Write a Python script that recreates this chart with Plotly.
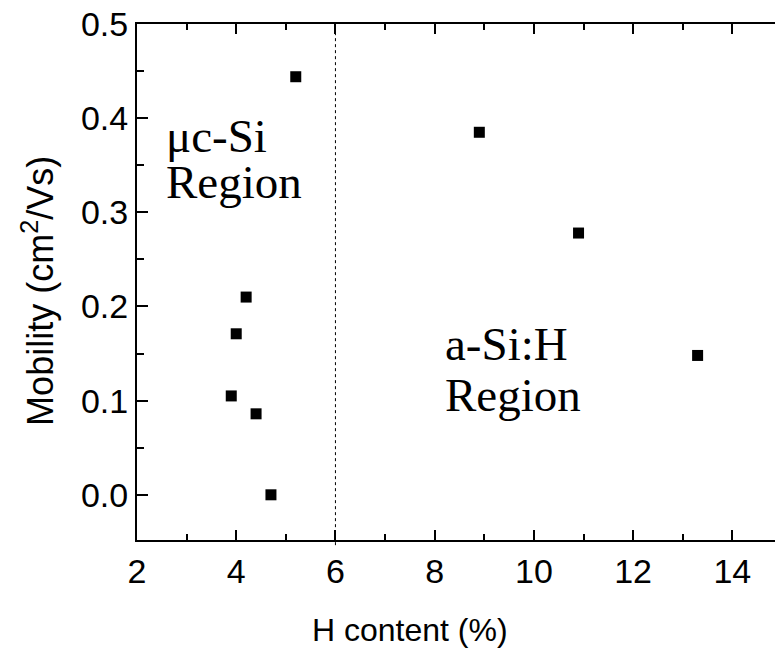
import plotly.graph_objects as go

# Data
h_content = [5.2, 8.9, 10.9, 13.3, 4.2, 4.0, 3.9, 4.4, 4.7]
mobility = [0.444, 0.385, 0.278, 0.148, 0.210, 0.171, 0.105, 0.086, 0.0]

x_tick_start, x_tick_step = 2, 2
y_tick_start, y_tick_step = 0.0, 0.1
boundary_x = 6

SANS = "Liberation Sans, Arial, sans-serif"
SERIF = "Liberation Serif, Times New Roman, serif"

fig = go.Figure()
fig.add_trace(go.Scatter(
    x=h_content, y=mobility, mode="markers",
    marker=dict(symbol="square", size=11, color="black", line=dict(width=0)),
    showlegend=False, cliponaxis=False,
))

fig.add_shape(type="line", xref="x", yref="paper", x0=boundary_x, x1=boundary_x,
              y0=-0.01, y1=1, line=dict(color="black", width=1, dash="dot"))

fig.update_xaxes(
    range=[2, 14.86], tickmode="linear", tick0=x_tick_start, dtick=x_tick_step,
    showline=True, linecolor="black", linewidth=2, mirror="ticks",
    ticks="inside", ticklen=10, tickwidth=2, tickcolor="black",
    minor=dict(ticks="inside", ticklen=6, tickwidth=2, tickcolor="black",
               tickmode="linear", tick0=x_tick_start, dtick=x_tick_step / 2, showgrid=False),
    showgrid=False, zeroline=False,
    tickfont=dict(family=SANS, size=34, color="black"),
)
fig.update_yaxes(
    range=[-0.048, 0.5], tickmode="linear", tick0=y_tick_start, dtick=y_tick_step, tickformat=".1f",
    showline=True, linecolor="black", linewidth=2, mirror=False,
    ticks="inside", ticklen=11, tickwidth=2, tickcolor="black",
    minor=dict(ticks="inside", ticklen=7, tickwidth=2, tickcolor="black",
               tickmode="linear", tick0=y_tick_start, dtick=y_tick_step / 2, showgrid=False),
    showgrid=False, zeroline=False,
    tickfont=dict(family=SANS, size=34, color="black"),
)

annotations = [
    dict(text="H content (%)", xref="paper", yref="paper", x=0.428, y=-0.175,
         xanchor="center", yanchor="middle", showarrow=False,
         font=dict(family=SANS, size=32, color="black")),
    dict(text="Mobility (cm<sup>2</sup>/Vs)", xref="paper", yref="paper", x=-0.155, y=0.483,
         xanchor="center", yanchor="middle", showarrow=False, textangle=-90,
         font=dict(family=SANS, size=36, color="black")),
    dict(text="\u03bcc-Si", xref="x", yref="y", x=2.55, y=0.381, xanchor="left", yanchor="middle",
         showarrow=False, font=dict(family=SERIF, size=47, color="black")),
    dict(text="Region", xref="x", yref="y", x=2.55, y=0.332, xanchor="left", yanchor="middle",
         showarrow=False, font=dict(family=SERIF, size=47, color="black")),
    dict(text="a-Si:H", xref="x", yref="y", x=8.17, y=0.160, xanchor="left", yanchor="middle",
         showarrow=False, font=dict(family=SERIF, size=47, color="black")),
    dict(text="Region", xref="x", yref="y", x=8.17, y=0.106, xanchor="left", yanchor="middle",
         showarrow=False, font=dict(family=SERIF, size=47, color="black")),
]

fig.update_layout(
    width=775, height=651,
    margin=dict(l=137, r=0, t=24, b=111, pad=0),
    paper_bgcolor="white", plot_bgcolor="white",
    annotations=annotations,
)

fig.write_html("out.html")
